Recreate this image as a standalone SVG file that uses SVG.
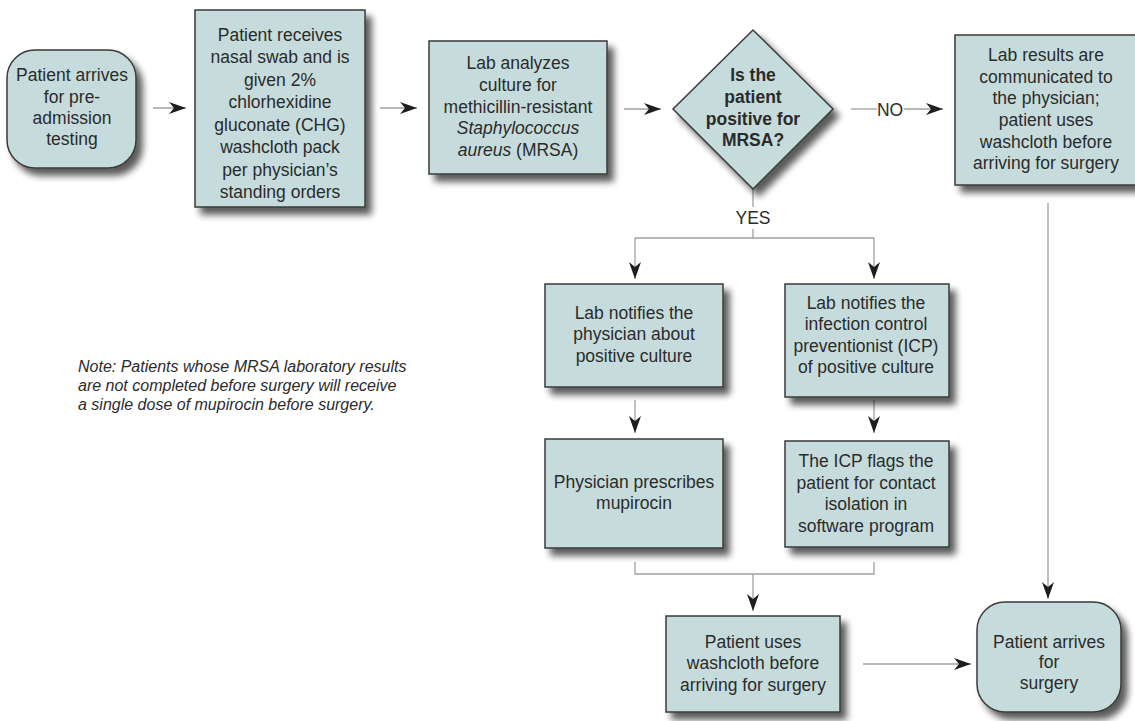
<svg xmlns="http://www.w3.org/2000/svg" width="1135" height="721" viewBox="0 0 1135 721">
<defs>
<filter id="sh" x="-20%" y="-20%" width="150%" height="150%">
<feGaussianBlur in="SourceAlpha" stdDeviation="3.5"/>
<feOffset dx="6" dy="7" result="b"/>
<feComponentTransfer><feFuncA type="linear" slope="0.65"/></feComponentTransfer>
<feMerge><feMergeNode/><feMergeNode in="SourceGraphic"/></feMerge>
</filter>
<marker id="ah" markerUnits="userSpaceOnUse" markerWidth="18" markerHeight="12" refX="17" refY="6" orient="auto">
<path d="M0,0 L17,6 L0,12 L5,6 z" fill="#1e1e1e"/>
</marker>
</defs>
<style>
.box{fill:#c6dcdc;stroke:#3a3a3a;stroke-width:1.5;filter:url(#sh)}
.t{font-family:"Liberation Sans",Arial,sans-serif;font-size:17.5px;fill:#2b2b2b;text-anchor:middle}
.b{font-weight:bold}
.c{fill:none;stroke:#a0a0a0;stroke-width:1.3}
.a{marker-end:url(#ah)}
.note{font-family:"Liberation Sans",Arial,sans-serif;font-size:16px;font-style:italic;fill:#2b2b2b}
</style>
<rect width="1135" height="721" fill="#ffffff"/>
<g id="connectors">
<path class="c a" d="M153,108 H186"/>
<path class="c a" d="M380,108 H417"/>
<path class="c a" d="M624,109 H661"/>
<path class="c" d="M851,109 H877"/>
<path class="c a" d="M904,109 H943"/>
<path class="c" d="M753,189 V207"/>
<path class="c" d="M753,229 V238 M635,238 H874"/>
<path class="c a" d="M635,238 V279"/>
<path class="c a" d="M874,238 V279"/>
<path class="c a" d="M635,400 V433"/>
<path class="c a" d="M874,400 V433"/>
<path class="c" d="M635,562 V574 H874 V562"/>
<path class="c a" d="M753,574 V611"/>
<path class="c a" d="M863,664 H971"/>
<path class="c a" d="M1048,203 V599"/>
<text class="t" x="753" y="224">YES</text>
<text class="t" x="890" y="116">NO</text>
</g>
<g id="n1">
<rect class="box" x="7" y="50" width="129" height="118" rx="28"/>
<text class="t"><tspan x="72" y="81">Patient arrives</tspan><tspan x="72" y="103">for pre-</tspan><tspan x="72" y="124">admission</tspan><tspan x="72" y="145">testing</tspan></text>
</g>
<g id="n2">
<rect class="box" x="195" y="10" width="170" height="197"/>
<text class="t"><tspan x="280" y="41">Patient receives</tspan><tspan x="280" y="63">nasal swab and is</tspan><tspan x="280" y="86">given 2%</tspan><tspan x="280" y="108">chlorhexidine</tspan><tspan x="280" y="131">gluconate (CHG)</tspan><tspan x="280" y="153">washcloth pack</tspan><tspan x="280" y="176">per physician’s</tspan><tspan x="280" y="198">standing orders</tspan></text>
</g>
<g id="n3">
<rect class="box" x="429" y="41" width="178" height="133"/>
<text class="t"><tspan x="518" y="69">Lab analyzes</tspan><tspan x="518" y="91">culture for</tspan><tspan x="518" y="113">methicillin-resistant</tspan><tspan x="518" y="134" font-style="italic">Staphylococcus</tspan><tspan x="518" y="156"><tspan font-style="italic">aureus</tspan> (MRSA)</tspan></text>
</g>
<g id="decision">
<polygon class="box" points="753,30 833,109 753,189 673,109"/>
<text class="t b"><tspan x="753" y="81">Is the</tspan><tspan x="753" y="103">patient</tspan><tspan x="753" y="125">positive for</tspan><tspan x="753" y="146">MRSA?</tspan></text>
</g>
<g id="n-no">
<rect class="box" x="955" y="35" width="186" height="150"/>
<text class="t"><tspan x="1046" y="61">Lab results are</tspan><tspan x="1046" y="83">communicated to</tspan><tspan x="1046" y="104">the physician;</tspan><tspan x="1046" y="126">patient uses</tspan><tspan x="1046" y="148">washcloth before</tspan><tspan x="1046" y="169">arriving for surgery</tspan></text>
</g>
<g id="n-notify-phys">
<rect class="box" x="545" y="284" width="178" height="103"/>
<text class="t"><tspan x="634" y="319">Lab notifies the</tspan><tspan x="634" y="340">physician about</tspan><tspan x="634" y="362">positive culture</tspan></text>
</g>
<g id="n-notify-icp">
<rect class="box" x="785" y="284" width="164" height="113"/>
<text class="t"><tspan x="866" y="309">Lab notifies the</tspan><tspan x="866" y="330">infection control</tspan><tspan x="866" y="352">preventionist (ICP)</tspan><tspan x="866" y="373">of positive culture</tspan></text>
</g>
<g id="n-prescribe">
<rect class="box" x="545" y="439" width="178" height="109"/>
<text class="t"><tspan x="634" y="488">Physician prescribes</tspan><tspan x="634" y="509">mupirocin</tspan></text>
</g>
<g id="n-flag">
<rect class="box" x="785" y="441" width="164" height="106"/>
<text class="t"><tspan x="866" y="467">The ICP flags the</tspan><tspan x="866" y="489">patient for contact</tspan><tspan x="866" y="510">isolation in</tspan><tspan x="866" y="532">software program</tspan></text>
</g>
<g id="n-washcloth">
<rect class="box" x="666" y="616" width="174" height="96"/>
<text class="t"><tspan x="753" y="648">Patient uses</tspan><tspan x="753" y="669">washcloth before</tspan><tspan x="753" y="691">arriving for surgery</tspan></text>
</g>
<g id="n-surgery">
<rect class="box" x="977" y="602" width="144" height="110" rx="28"/>
<text class="t"><tspan x="1049" y="648">Patient arrives</tspan><tspan x="1049" y="668">for</tspan><tspan x="1049" y="689">surgery</tspan></text>
</g>
<g id="note">
<text class="note"><tspan x="78" y="372">Note: Patients whose MRSA laboratory results</tspan><tspan x="78" y="391">are not completed before surgery will receive</tspan><tspan x="78" y="410">a single dose of mupirocin before surgery.</tspan></text>
</g>
</svg>
